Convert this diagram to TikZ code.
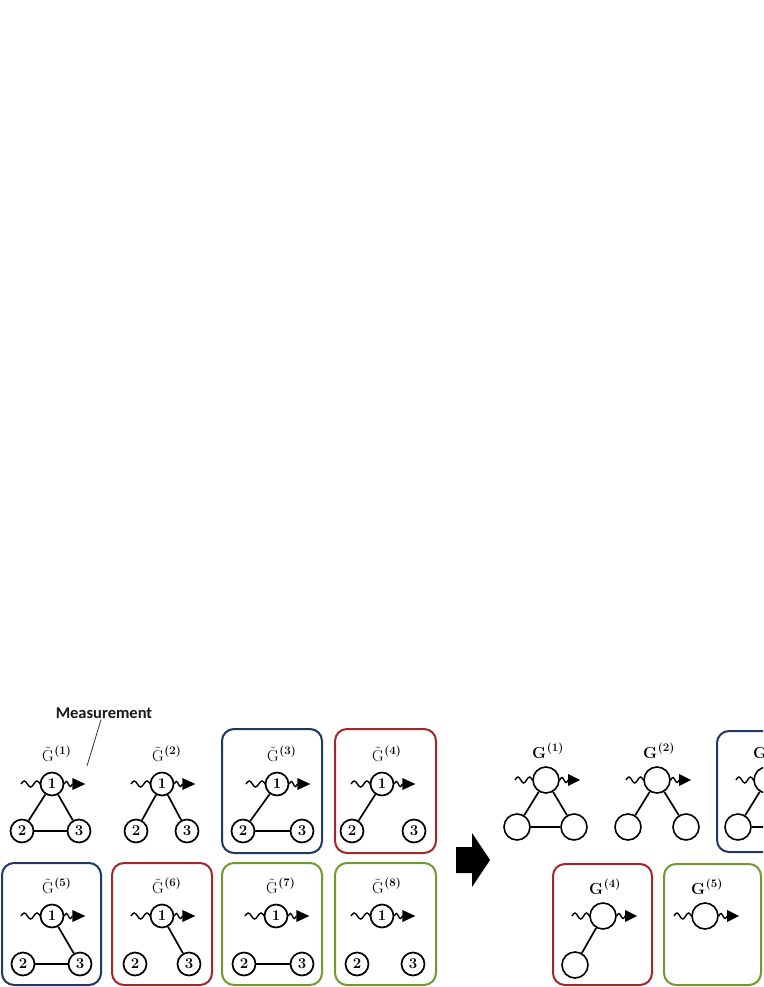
\documentclass[tikz,border=0pt]{standalone}
\usepackage{fontspec}
\newfontfamily\carl{Carlito}
\usetikzlibrary{calc}
\definecolor{bblue}{HTML}{1F3864}
\definecolor{bred}{HTML}{A0282A}
\definecolor{bgreen}{HTML}{6E9A2F}
\tikzset{
 vl/.style={circle, draw, line width=1.7pt, minimum size=23pt, inner sep=0pt, font=\fontsize{15}{15}\selectfont\bfseries},
 vr/.style={circle, draw, line width=1.6pt, minimum size=26pt, inner sep=0pt},
 ed/.style={line width=1.7pt},
 wv/.style={line width=1.4pt},
 bx/.style={rounded corners=12pt, line width=2pt},
 glab/.style={font=\fontsize{16}{16}\selectfont, inner sep=0pt},
}
\newcommand\tildeG{\leavevmode\rlap{\hbox to \fontcharwd\font`G{\hss\raisebox{3.6pt}{\char"02DC}\hss}}G}
\newcommand\tlab[1]{\tildeG\kern0.5pt\raisebox{7pt}{\fontsize{11.5}{11.5}\selectfont\bfseries(#1)}}
\newcommand\blab[1]{\textbf{G}\kern0.5pt\raisebox{7pt}{\fontsize{11.5}{11.5}\selectfont\bfseries(#1)}}
\newcommand\ioleft[1]{%
 \coordinate (#1-a) at ($(#1.center)+(-31,0)$);
 \draw[wv] (#1-a) sin ++(3.2,-3) cos ++(3.2,3) sin ++(3.2,3) cos ++(3.2,-3) sin ++(3.2,-3) cos ++(3.2,3) -- (#1.west);
 \draw[wv] (#1.east) sin ++(2,-2.5) cos ++(2,2.5) sin ++(2,2.5) cos ++(2,-2.5) coordinate (#1-b);
 \fill ($(#1-b)+(0,-6)$) -- ++(13,6) -- ++(-13,6) -- cycle;
}
\newcommand\ioright[1]{%
 \coordinate (#1-a) at ($(#1.center)+(-31,0)$);
 \draw[wv] (#1-a) sin ++(2.9,-3) cos ++(2.9,3) sin ++(2.9,3) cos ++(2.9,-3) sin ++(2.9,-3) cos ++(2.9,3) -- (#1.west);
 \draw[wv] (#1.east) sin ++(2.1,-2.5) cos ++(2.1,2.5) sin ++(2.1,2.5) cos ++(2.1,-2.5) coordinate (#1-b);
 \fill ($(#1-b)+(0,-6)$) -- ++(12,6) -- ++(-12,6) -- cycle;
}
\newcommand\leftgraph[5]{%
 \node[vl] (#1-1) at (#2) {1};
 \node[vl] (#1-2) at (#3) {2};
 \node[vl] (#1-3) at (#4) {3};
 \node[glab, anchor=base west] (#1-lab) at ($(#1-1)+(-10,-23)$) {\tlab{#5}};
 \ioleft{#1-1}
}
\newcommand\rightgraph[3]{%
 \node[vr] (#1-1) at (#2) {};
 \node[glab, anchor=base west] (#1-lab) at ($(#1-1)+(-14,-22)$) {\blab{#3}};
 \ioright{#1-1}
}
\begin{document}
\begin{tikzpicture}[x=1pt,y=-1pt]
\useasboundingbox (0,0) rectangle (763,987);
\clip (0,0) rectangle (763,987);
% Measurement label
\node[font=\carl\bfseries\fontsize{16.5}{16.5}\selectfont, text=black!90, inner sep=1pt] (meas) at (104,713) {Measurement};
\coordinate (mtip) at (87,766);
\draw[line width=0.8pt, black!80] ([xshift=-3pt]meas.south) -- (mtip);
% boxes left
\draw[bx, bblue] (222,729) rectangle (322,853);
\draw[bx, bred] (335,729) rectangle (436,853);
\draw[bx, bblue] (2,863) rectangle (101,985);
\draw[bx, bred] (112,863) rectangle (212,985);
\draw[bx, bgreen] (222,863) rectangle (322,985);
\draw[bx, bgreen] (335,863) rectangle (436,985);
% left graphs
\leftgraph{a}{52,784}{22,831}{79,831}{1}
\draw[ed] (a-1) -- (a-2); \draw[ed] (a-1) -- (a-3); \draw[ed] (a-2) -- (a-3);
\leftgraph{b}{162,784}{136,831}{187,831}{2}
\draw[ed] (b-1) -- (b-2); \draw[ed] (b-1) -- (b-3);
\leftgraph{c}{277,784}{243,831}{302,831}{3}
\draw[ed] (c-1) -- (c-2); \draw[ed] (c-2) -- (c-3);
\leftgraph{d}{382,784}{352,831}{414,831}{4}
\draw[ed] (d-1) -- (d-2);
\leftgraph{e}{52,916}{23,964}{80,964}{5}
\draw[ed] (e-1) -- (e-3); \draw[ed] (e-2) -- (e-3);
\leftgraph{f}{162,916}{135,964}{189,964}{6}
\draw[ed] (f-1) -- (f-3);
\leftgraph{g}{276,916}{244,964}{302,964}{7}
\draw[ed] (g-2) -- (g-3);
\leftgraph{h}{382,916}{357,964}{413,964}{8}
% big arrow
\fill (456,847) -- (472,847) -- (472,833) -- (490,860) -- (472,887) -- (472,873) -- (456,873) -- cycle;
% right boxes
\draw[bx, bblue] (717,731) rectangle (817,852);
\draw[bx, bred] (553,864) rectangle (652,985);
\draw[bx, bgreen] (664,864) rectangle (761,985);
% right graphs
\rightgraph{p}{546,780}{1}
\node[vr] (p-2) at (517,827) {}; \node[vr] (p-3) at (574,827) {};
\draw[ed] (p-1) -- (p-2); \draw[ed] (p-1) -- (p-3); \draw[ed] (p-2) -- (p-3);
\rightgraph{q}{657,780}{2}
\node[vr] (q-2) at (628,827) {}; \node[vr] (q-3) at (686,827) {};
\draw[ed] (q-1) -- (q-2); \draw[ed] (q-1) -- (q-3);
\rightgraph{r}{767,780}{3}
\node[vr] (r-2) at (738,827) {}; \node[vr] (r-3) at (796,827) {};
\draw[ed] (r-1) -- (r-2); \draw[ed] (r-2) -- (r-3);
\rightgraph{s}{603,916}{4}
\node[vr] (s-2) at (575,965) {};
\draw[ed] (s-1) -- (s-2);
\rightgraph{t}{705,916}{5}
\end{tikzpicture}
\end{document}
